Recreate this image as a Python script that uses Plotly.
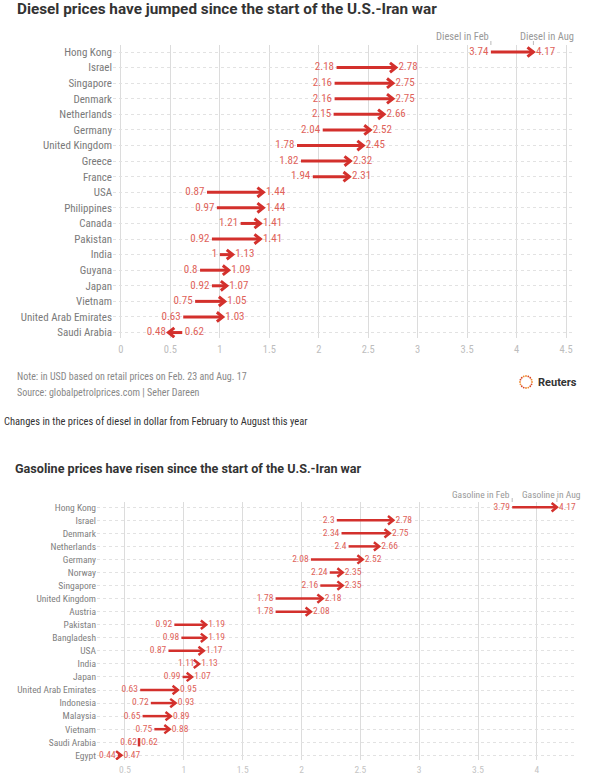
import math
import plotly.graph_objects as go

W, H = 597, 781

# ---------------- data ----------------
diesel_countries = ["Hong Kong", "Israel", "Singapore", "Denmark", "Netherlands", "Germany",
                    "United Kingdom", "Greece", "France", "USA", "Philippines", "Canada",
                    "Pakistan", "India", "Guyana", "Japan", "Vietnam", "United Arab Emirates",
                    "Saudi Arabia"]
diesel_feb = [3.74, 2.18, 2.16, 2.16, 2.15, 2.04, 1.78, 1.82, 1.94, 0.87, 0.97, 1.21,
              0.92, 1.00, 0.80, 0.92, 0.75, 0.63, 0.62]
diesel_aug = [4.17, 2.78, 2.75, 2.75, 2.66, 2.52, 2.45, 2.32, 2.31, 1.44, 1.44, 1.41,
              1.41, 1.13, 1.09, 1.07, 1.05, 1.03, 0.48]
diesel_ticks = [0, 0.5, 1, 1.5, 2, 2.5, 3, 3.5, 4, 4.5]

gas_countries = ["Hong Kong", "Israel", "Denmark", "Netherlands", "Germany", "Norway",
                 "Singapore", "United Kingdom", "Austria", "Pakistan", "Bangladesh", "USA",
                 "India", "Japan", "United Arab Emirates", "Indonesia", "Malaysia", "Vietnam",
                 "Saudi Arabia", "Egypt"]
gas_feb = [3.79, 2.30, 2.34, 2.40, 2.08, 2.24, 2.16, 1.78, 1.78, 0.92, 0.98, 0.87,
           1.11, 0.99, 0.63, 0.72, 0.65, 0.75, 0.62, 0.44]
gas_aug = [4.17, 2.78, 2.75, 2.66, 2.52, 2.35, 2.35, 2.18, 2.08, 1.19, 1.19, 1.17,
           1.13, 1.07, 0.95, 0.93, 0.89, 0.88, 0.62, 0.47]
gas_ticks = [0.5, 1, 1.5, 2, 2.5, 3, 3.5, 4]

# ---------------- style ----------------
FONT = "Liberation Sans Narrow, Roboto Condensed, Roboto, sans-serif"
ARROW = "#d3302c"
LABEL = "#e0625a"


def px(x):
    return x / W


def py(y):
    return 1 - y / H


def fmt(v):
    return f"{v:g}"


fig = go.Figure()


def add_panel(countries, feb, aug, xa, ya, dx, dy, lw, fsize):
    sx, sy, cx, cy = [], [], [], []
    for i, (a, b) in enumerate(zip(feb, aug)):
        if a != b:
            sx += [a, b, None]
            sy += [i, i, None]
            s = 1 if b > a else -1
            cx += [b - s * dx, b, b - s * dx, None]
            cy += [i - dy, i, i + dy, None]
        else:
            cx += [b, b, None]
            cy += [i - dy, i + dy, None]
    fig.add_trace(go.Scatter(x=sx, y=sy, mode="lines", xaxis=xa, yaxis=ya,
                             line=dict(color=ARROW, width=lw), hoverinfo="skip",
                             showlegend=False))
    fig.add_trace(go.Scatter(x=cx, y=cy, mode="lines", xaxis=xa, yaxis=ya,
                             line=dict(color=ARROW, width=lw), hoverinfo="skip",
                             showlegend=False))
    lo = [min(a, b) for a, b in zip(feb, aug)]
    hi = [max(a, b) for a, b in zip(feb, aug)]
    idx = list(range(len(countries)))
    fig.add_trace(go.Scatter(x=lo, y=idx, mode="text", text=[fmt(v) + " " for v in lo],
                             textposition="middle left", xaxis=xa, yaxis=ya,
                             textfont=dict(family=FONT, size=fsize, color=LABEL),
                             cliponaxis=False, hoverinfo="skip", showlegend=False))
    fig.add_trace(go.Scatter(x=hi, y=idx, mode="text", text=[" " + fmt(v) for v in hi],
                             textposition="middle right", xaxis=xa, yaxis=ya,
                             textfont=dict(family=FONT, size=fsize, color=LABEL),
                             cliponaxis=False, hoverinfo="skip", showlegend=False))


add_panel(diesel_countries, diesel_feb, diesel_aug, "x", "y", 0.06, 0.3, 3, 11)
add_panel(gas_countries, gas_feb, gas_aug, "x2", "y2", 0.045, 0.32, 2.5, 9.5)

xcommon = dict(showgrid=True, gridcolor="#dcdcdc", gridwidth=1, zeroline=False,
               showline=False, ticks="", fixedrange=True)
ycommon = dict(showgrid=True, gridcolor="#e2e2e2", griddash="dot", gridwidth=1,
               zeroline=False, showline=False, ticks="", fixedrange=True)

fig.update_layout(
    width=W, height=H, margin=dict(l=0, r=0, t=0, b=0),
    paper_bgcolor="white", plot_bgcolor="white",
    font=dict(family=FONT, color="#666"),
    xaxis=dict(**xcommon, domain=[px(113), px(572)], range=[-0.08, 4.56],
               tickvals=diesel_ticks, ticktext=[fmt(t) for t in diesel_ticks],
               tickfont=dict(size=10.5, color="#bdbdbd"), anchor="y",
               ticklabelstandoff=3),
    yaxis=dict(**ycommon, domain=[py(338), py(45)], range=[18.35, -0.45],
               tickvals=list(range(len(diesel_countries))), ticktext=diesel_countries,
               tickfont=dict(size=11, color="#7a7a7a"), anchor="x"),
    xaxis2=dict(**xcommon, domain=[px(97), px(574)], range=[0.263, 4.315],
                tickvals=gas_ticks, ticktext=[fmt(t) for t in gas_ticks],
                tickfont=dict(size=9.5, color="#c4c4c4"), anchor="y2",
                ticklabelstandoff=2),
    yaxis2=dict(**ycommon, domain=[py(760), py(502)], range=[19.36, -0.4],
                tickvals=list(range(len(gas_countries))), ticktext=gas_countries,
                tickfont=dict(size=9.5, color="#808080"), anchor="x2"),
)

ann = []


def text(x, y, s, size, color, xanchor="left", bold=False, family=FONT):
    ann.append(dict(x=px(x), y=py(y), xref="paper", yref="paper", showarrow=False,
                    text=f"<b>{s}</b>" if bold else s, xanchor=xanchor, yanchor="middle",
                    font=dict(size=size, color=color, family=family)))


text(15, 9, "Diesel prices have jumped since the start of the U.S.-Iran war", 15.3, "#333",
     bold=True, family="Roboto, sans-serif")
text(15, 376, "Note: in USD based on retail prices on Feb. 23 and Aug. 17", 10, "#888")
text(15, 392, "Source: globalpetrolprices.com | Seher Dareen", 10, "#888")
text(2, 421, "Changes in the prices of diesel in dollar from February to August this year",
     10.5, "#333")
text(13, 468, "Gasoline prices have risen since the start of the U.S.-Iran war", 12.6, "#333",
     bold=True, family="Roboto, sans-serif")
text(536, 382, "Reuters", 11, "#333", bold=True, family="Roboto, sans-serif")

# series legends
ann.append(dict(x=diesel_feb[0], y=py(36), xref="x", yref="paper", showarrow=False,
                text="Diesel in Feb", xanchor="right", yanchor="middle",
                font=dict(size=10.5, color="#999", family=FONT)))
ann.append(dict(x=diesel_aug[0], y=py(36), xref="x", yref="paper", showarrow=False,
                text="Diesel in Aug", xanchor="left", yanchor="middle", xshift=-15,
                font=dict(size=10.5, color="#999", family=FONT)))
ann.append(dict(x=gas_feb[0], y=py(494), xref="x2", yref="paper", showarrow=False,
                text="Gasoline in Feb", xanchor="right", yanchor="middle",
                font=dict(size=9.5, color="#999", family=FONT)))
ann.append(dict(x=gas_feb[0], y=py(494), xref="x2", yref="paper", showarrow=False,
                text="Gasoline in Aug", xanchor="left", yanchor="middle", xshift=8,
                font=dict(size=9.5, color="#999", family=FONT)))

shapes = []
for xv, xr in [(diesel_feb[0], "x"), (diesel_aug[0], "x")]:
    shapes.append(dict(type="line", xref=xr, yref="paper", x0=xv, x1=xv,
                       y0=py(45), y1=py(41), line=dict(color="#bbb", width=1)))
for xv, xr in [(gas_feb[0], "x2"), (gas_aug[0], "x2")]:
    shapes.append(dict(type="line", xref=xr, yref="paper", x0=xv, x1=xv,
                       y0=py(502), y1=py(498), line=dict(color="#bbb", width=1)))

# Reuters logo ring of dots
n = 16
for k in range(n):
    ang = 2 * math.pi * k / n
    ox, oy = 6 * math.cos(ang), 6 * math.sin(ang)
    col = "#f08a2c" if (k % 4) < 2 else "#d94a2a"
    shapes.append(dict(type="circle", xref="paper", yref="paper", xsizemode="pixel",
                       ysizemode="pixel", xanchor=px(526), yanchor=py(382),
                       x0=ox - 0.9, x1=ox + 0.9, y0=oy - 0.9, y1=oy + 0.9,
                       fillcolor=col, line=dict(width=0)))

fig.update_layout(annotations=ann, shapes=shapes)
fig.write_html("out.html", config={"displayModeBar": False},
               post_script="document.body.style.margin='0';")
